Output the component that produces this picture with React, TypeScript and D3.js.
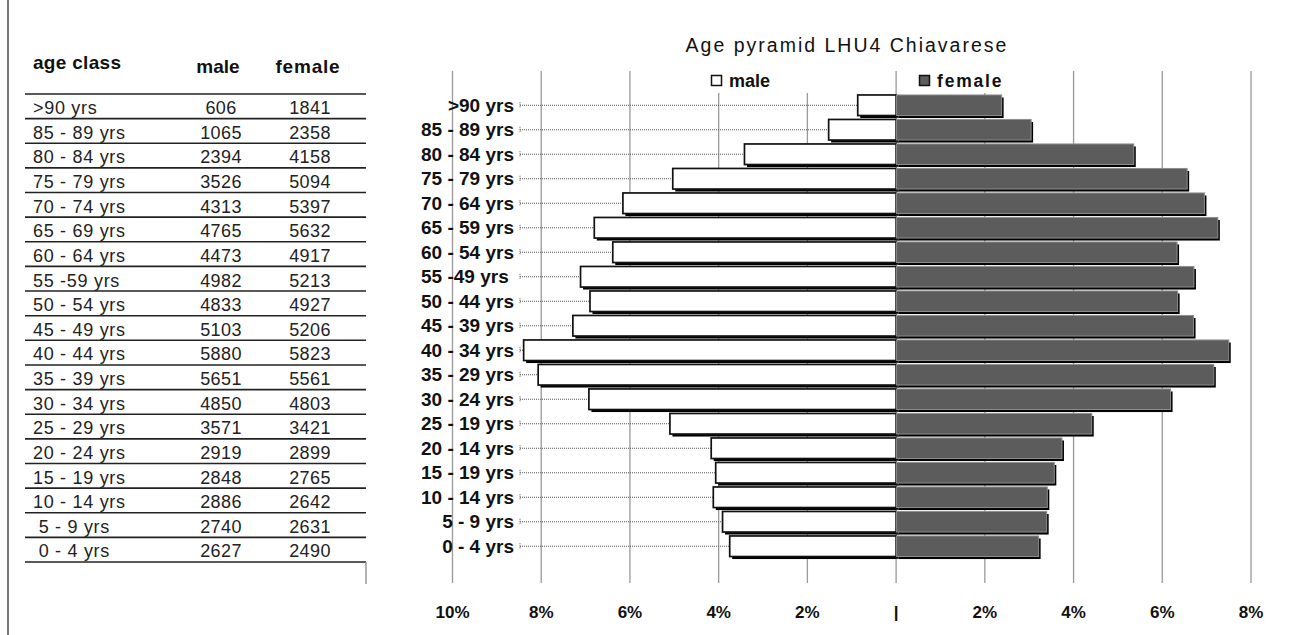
import { scaleBand, scaleLinear, sum } from 'd3'

// table rows (left side) and the labels the chart itself prints (with its typos)
const tableClasses = [
  '>90 yrs', '85 - 89 yrs', '80 - 84 yrs', '75 - 79 yrs', '70 - 74 yrs', '65 - 69 yrs',
  '60 - 64 yrs', '55 -59 yrs', '50 - 54 yrs', '45 - 49 yrs', '40 - 44 yrs', '35 - 39 yrs',
  '30 - 34 yrs', '25 - 29 yrs', '20 - 24 yrs', '15 - 19 yrs', '10 - 14 yrs', ' 5 - 9 yrs', ' 0 - 4 yrs',
]
const chartClasses = [
  '>90 yrs', '85 - 89 yrs', '80 - 84 yrs', '75 - 79 yrs', '70 - 64 yrs', '65 - 59 yrs',
  '60 - 54 yrs', '55 -49 yrs ', '50 - 44 yrs', '45 - 39 yrs', '40 - 34 yrs', '35 - 29 yrs',
  '30 - 24 yrs', '25 - 19 yrs', '20 - 14 yrs', '15 - 19 yrs', '10 - 14 yrs', '5 - 9 yrs', '0 - 4 yrs',
]
const maleCounts = [606, 1065, 2394, 3526, 4313, 4765, 4473, 4982, 4833, 5103, 5880, 5651, 4850, 3571, 2919, 2848, 2886, 2740, 2627]
const femaleCounts = [1841, 2358, 4158, 5094, 5397, 5632, 4917, 5213, 4927, 5206, 5823, 5561, 4803, 3421, 2899, 2765, 2642, 2631, 2490]
const xTickValues = [-10, -8, -6, -4, -2, 0, 2, 4, 6, 8]
const xTickLabels = ['10%', '8%', '6%', '4%', '2%', '|', '2%', '4%', '6%', '8%']
const title = 'Age pyramid LHU4 Chiavarese'

const W = 1303
const H = 635
const font = '"Liberation Sans", Arial, sans-serif'
const plotTop = 71
const plotBottom = 583
const leaderStart = 520

const maleTotal = sum(maleCounts)
const femaleTotal = sum(femaleCounts)

const x = scaleLinear().domain([-10, 8]).range([452.5, 1251])
const y = scaleBand<string>().domain(chartClasses).range([93, 558.5])
const rowY = scaleBand<string>().domain(tableClasses).range([94, 562])

const barH = y.step() * 0.84
const shadow = 2.5

const App = () => {
  const rows = chartClasses.map((label, i) => {
    const cy = (y(label) ?? 0) + y.step() / 2
    return {
      label,
      cy,
      male: (maleCounts[i] / maleTotal) * 100,
      female: (femaleCounts[i] / femaleTotal) * 100,
    }
  })

  return (
    <svg
      width={W}
      height={H}
      viewBox={`0 0 ${W} ${H}`}
      style={{ position: 'absolute', left: 0, top: 0, background: 'white', fontFamily: font }}
    >
      <line x1={8} x2={8} y1={0} y2={H} stroke="#777" strokeWidth={2} />

      {/* data table */}
      <g>
        <text x={33} y={62} dy="0.35em" fontSize={19} fontWeight="bold" fill="#111" letterSpacing={0.3}>age class</text>
        <text x={218} y={66} dy="0.35em" fontSize={19} fontWeight="bold" textAnchor="middle" fill="#111">male</text>
        <text x={308} y={66} dy="0.35em" fontSize={19} fontWeight="bold" textAnchor="middle" fill="#111" letterSpacing={0.8}>female</text>
        {tableClasses.map((label, i) => {
          const top = rowY(label) ?? 0
          const cy = top + rowY.step() / 2 + 1.5
          return (
            <g key={label}>
              <line x1={25} x2={366} y1={top} y2={top} stroke="#222" strokeWidth={1.6} />
              <text x={33} y={cy} dy="0.35em" fontSize={18} fill="#222" letterSpacing={0.7} style={{ whiteSpace: 'pre' }}>{label}</text>
              <text x={221} y={cy} dy="0.35em" fontSize={18} fill="#222" textAnchor="middle" letterSpacing={0.4}>{maleCounts[i]}</text>
              <text x={310} y={cy} dy="0.35em" fontSize={18} fill="#222" textAnchor="middle" letterSpacing={0.4}>{femaleCounts[i]}</text>
            </g>
          )
        })}
        <line x1={25} x2={366} y1={rowY.range()[1]} y2={rowY.range()[1]} stroke="#222" strokeWidth={1.6} />
        <line x1={366} x2={366} y1={rowY.range()[1]} y2={584} stroke="#999" strokeWidth={1.5} />
      </g>

      {/* chart */}
      <text x={847} y={45} dy="0.35em" fontSize={19.5} textAnchor="middle" fill="#111" letterSpacing={2}>{title}</text>

      {xTickValues.filter((v) => v !== 0).map((v) => (
        <line key={v} x1={x(v)} x2={x(v)} y1={plotTop} y2={plotBottom} stroke="#999" strokeWidth={1.3} />
      ))}

      {/* legend box hides the gridlines behind it */}
      <rect x={702} y={plotTop} width={306} height={22} fill="white" />
      <rect x={711.5} y={75.5} width={10} height={10} fill="white" stroke="#111" strokeWidth={1.5} />
      <text x={729} y={81} dy="0.35em" fontSize={18} fontWeight="bold" fill="#111">male</text>
      <rect x={919.5} y={75.5} width={10} height={10} fill="#5c5c5c" stroke="#111" strokeWidth={1.5} />
      <text x={937} y={81} dy="0.35em" fontSize={17.5} fontWeight="bold" fill="#111" letterSpacing={1.8}>female</text>

      <line x1={x(0)} x2={x(0)} y1={plotTop} y2={plotBottom} stroke="#999" strokeWidth={1.3} />

      {/* leader lines and category labels */}
      {rows.map((r) => (
        <g key={r.label}>
          <line x1={leaderStart} x2={x(-r.male)} y1={r.cy} y2={r.cy} stroke="#555" strokeWidth={1} strokeDasharray="1 1" />
          <line x1={leaderStart} x2={leaderStart} y1={r.cy - 3} y2={r.cy + 3} stroke="#555" strokeWidth={1} strokeDasharray="1 1" />
          <text x={514} y={r.cy} dy="0.35em" fontSize={19} fontWeight="bold" textAnchor="end" fill="#111" style={{ whiteSpace: 'pre' }}>
            {r.label}
          </text>
        </g>
      ))}

      {/* male bars */}
      {rows.map((r) => (
        <g key={r.label}>
          <rect x={x(-r.male) + shadow} y={r.cy - barH / 2 + shadow} width={x(0) - x(-r.male)} height={barH} fill="#000" />
          <rect x={x(-r.male)} y={r.cy - barH / 2} width={x(0) - x(-r.male)} height={barH} fill="white" stroke="#111" strokeWidth={1.7} />
        </g>
      ))}

      {/* female bars */}
      {rows.map((r) => (
        <g key={r.label}>
          <rect x={x(0) + shadow} y={r.cy - barH / 2 + shadow} width={x(r.female) - x(0)} height={barH} fill="#000" />
          <rect x={x(0) + 0.5} y={r.cy - barH / 2} width={x(r.female) - x(0)} height={barH} fill="#5c5c5c" stroke="#8e8e8e" strokeWidth={1} />
        </g>
      ))}

      {/* small ticks on the zero axis */}
      {y.domain().map((label) => (
        <line key={label} x1={x(0)} x2={x(0) + 3} y1={(y(label) ?? 0) + y.step()} y2={(y(label) ?? 0) + y.step()} stroke="#333" strokeWidth={1} />
      ))}

      {xTickValues.map((v, i) => (
        <text key={v} x={x(v)} y={612} dy="0.35em" fontSize={17} fontWeight="bold" textAnchor="middle" fill="#111">
          {xTickLabels[i]}
        </text>
      ))}
    </svg>
  )
}

export default App
